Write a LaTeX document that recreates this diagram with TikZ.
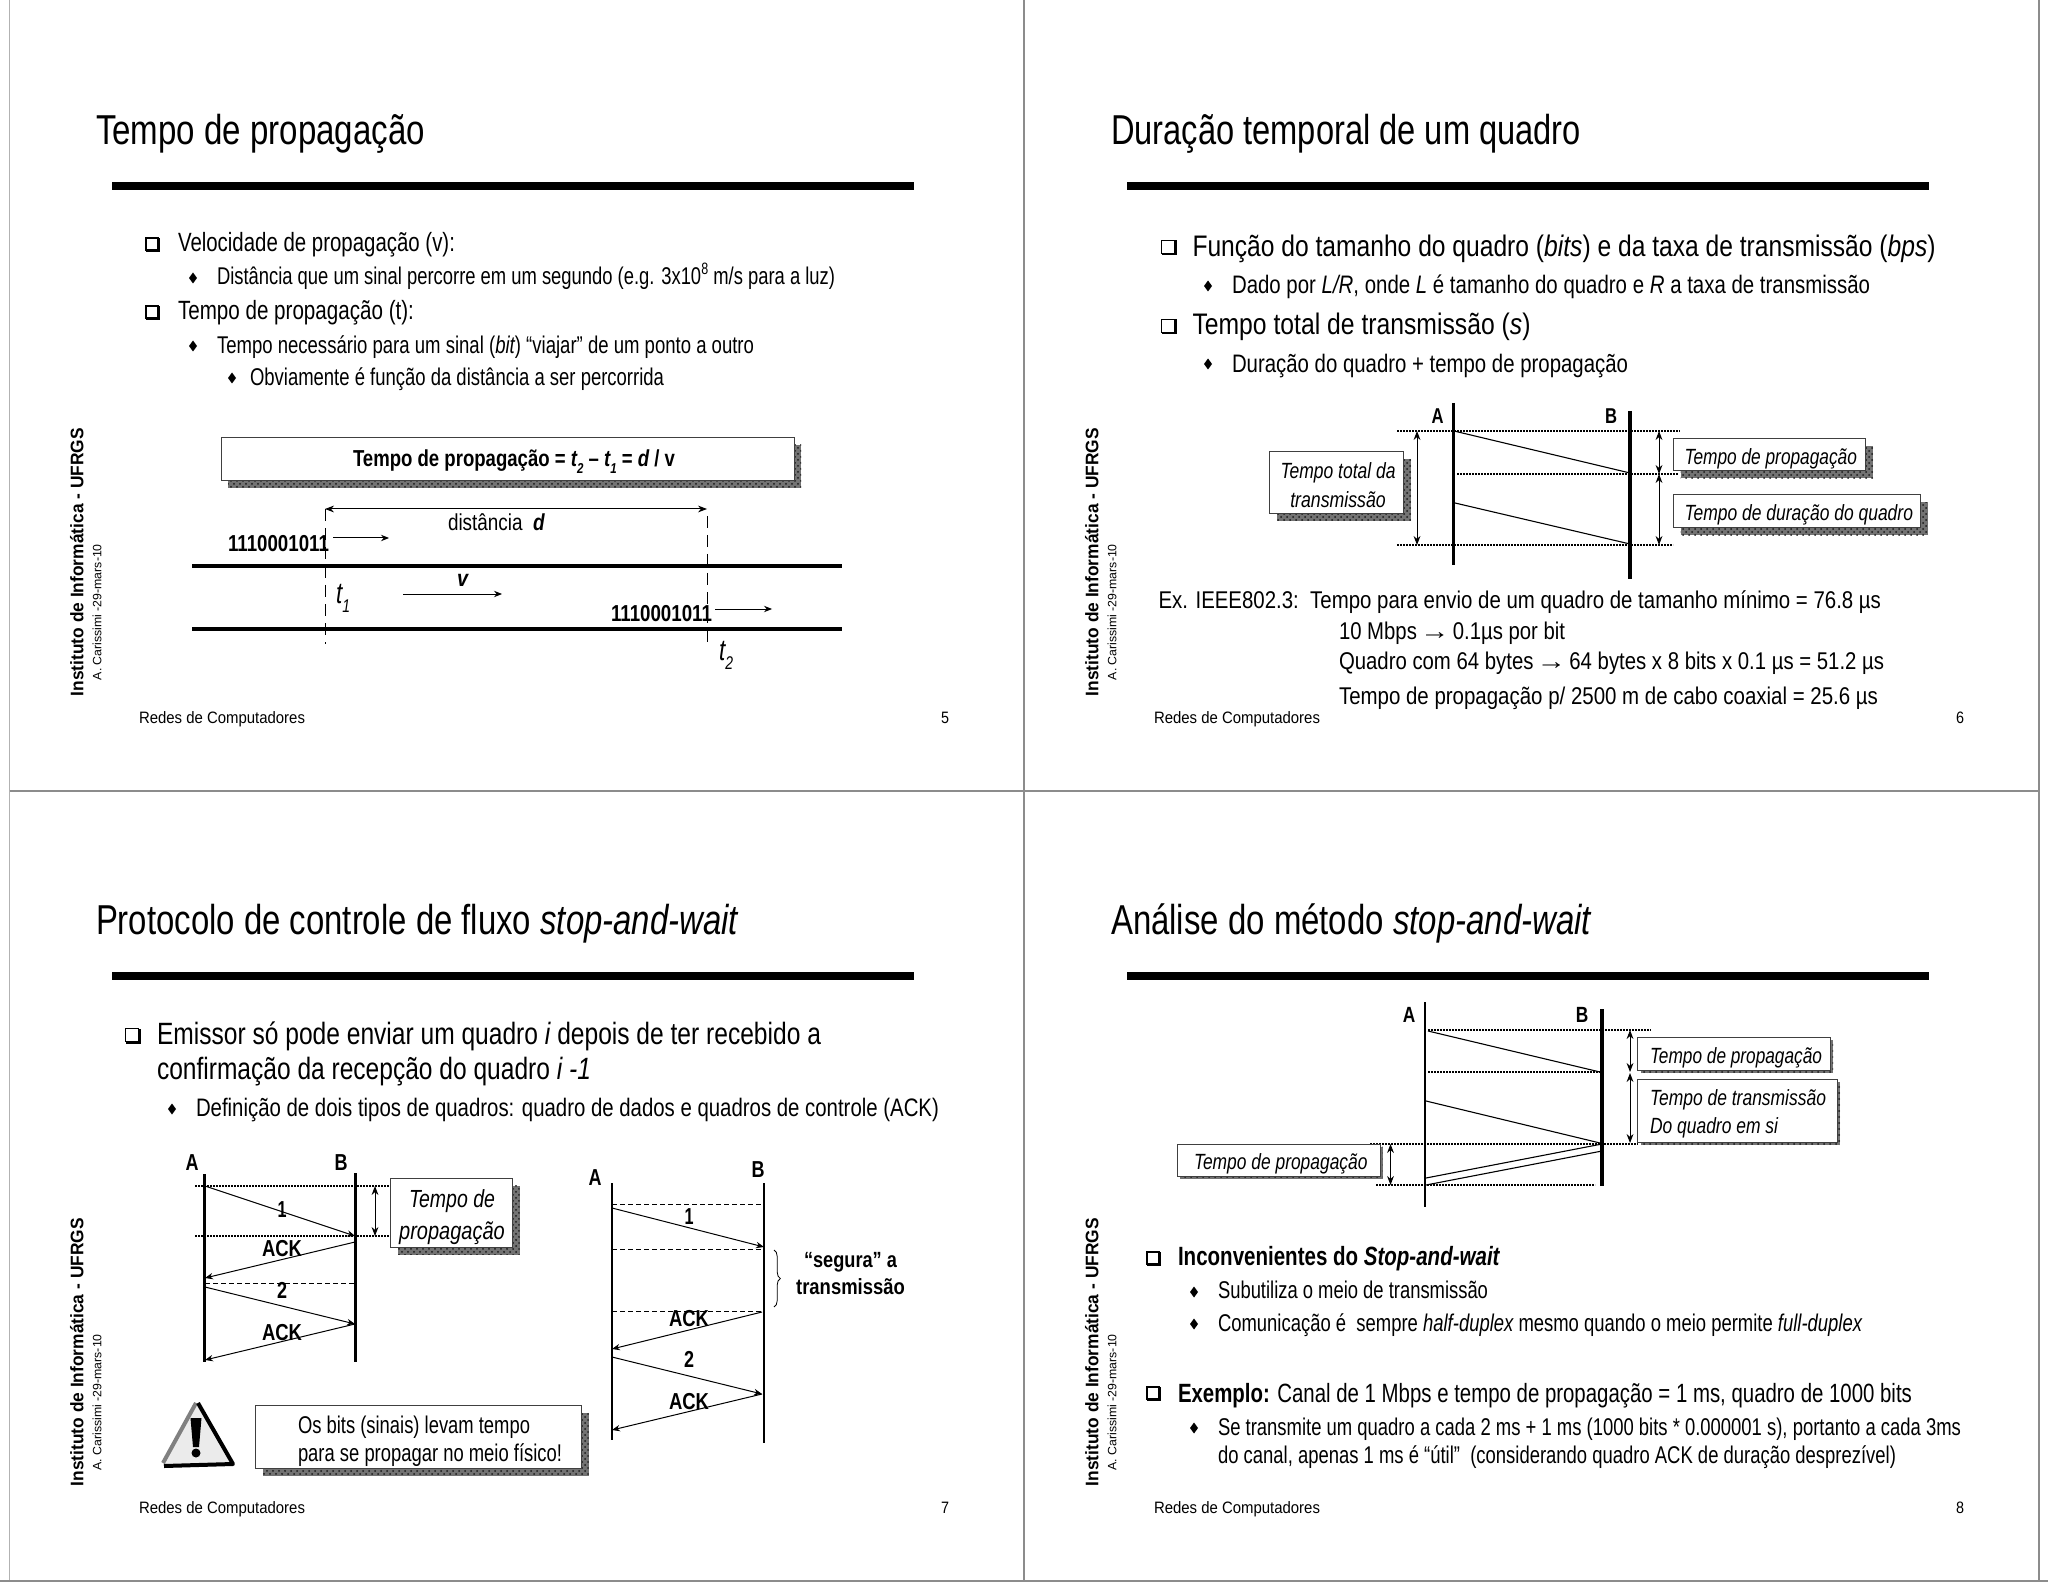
\documentclass[tikz,border=0pt]{standalone}
\usepackage{fontspec}
\usepackage{graphicx}
\setmainfont{Liberation Sans}
\usetikzlibrary{arrows.meta,patterns,decorations.pathreplacing}
\newlength\fitlen
\newcommand\fitw[2]{\setlength\fitlen{\fpeval{#1*0.5}pt}\resizebox{\fitlen}{\height}{#2}}
\newcommand\pxf[1]{\fontsize{\fpeval{#1*0.55}pt}{\fpeval{#1*0.66}pt}\selectfont}
% \tx[options]{name}{x}{y}{width px}{font px}{text}
\newcommand\tx[7][]{\node[txt,#1] (#2) at (#3,#4) {\fitw{#5}{\pxf{#6}#7}};}
\newcommand\subt[1]{\raisebox{-.3em}{\scalebox{.62}{#1}}}
\newcommand\supt[1]{\raisebox{.42em}{\scalebox{.68}{#1}}}
\newcommand\rarr{\hspace{-.12em}\scalebox{1.45}[1]{→}\hspace{-.12em}}
% \conn[style]{name}{x1}{y1}{x2}{y2}
\newcommand\conn[6][]{\coordinate (#2-a) at (#3,#4); \coordinate (#2-b) at (#5,#6); \draw[#1] (#2-a) -- (#2-b);}
\newcommand\qb[3]{\draw[line width=.7pt,fill=white] (#1-#3,#2-#3) rectangle (#1+#3,#2+#3);
  \draw[line width=1.2pt,line cap=butt] (#1-#3,#2+#3+.8) -- (#1+#3+.8,#2+#3+.8) -- (#1+#3+.8,#2-#3);}
\newcommand\db[2]{\fill (#1-4,#2) -- (#1,#2-5.5) -- (#1+4,#2) -- (#1,#2+5.5) -- cycle;}
% \bx{name}{x1}{y1}{x2}{y2}{dx}
\newcommand\bx[6]{\fill[shadowbg] (#2+#6,#3+#6) rectangle (#4+#6,#5+#6);
  \fill[shadowpat] (#2+#6,#3+#6) rectangle (#4+#6,#5+#6);
  \node[boxn,minimum width=\fpeval{(#4-#2)*0.5}pt,minimum height=\fpeval{(#5-#3)*0.5}pt] (#1) at (\fpeval{(#2+#4)/2},\fpeval{(#3+#5)/2}) {};}
\tikzset{
  txt/.style={anchor=base west,inner sep=0pt,outer sep=0pt,text=black,yshift=-.6pt},
  ctr/.style={anchor=base},
  vert/.style={rotate=90,yshift=.6pt},
  boxn/.style={draw=black!75,line width=.5pt,fill=white,inner sep=0pt,outer sep=0pt},
  shadowbg/.style={black!55},
  shadowpat/.style={pattern=crosshatch dots,pattern color=black!90},
  frameln/.style={draw=black!45,line width=1pt},
  rulebar/.style={line width=4pt,draw=black},
  life/.style={line width=1.7pt},
  dots/.style={line width=.9pt,dash pattern=on .9pt off .6pt},
  dsh/.style={line width=.5pt,dash pattern=on 2.5pt off 1.5pt},
  vdash/.style={line width=.4pt,dash pattern=on 6pt off 3.5pt},
  thin1/.style={line width=.55pt},
  arr/.style={line width=.5pt,-{Stealth[length=4pt,width=3.2pt]}},
  darr/.style={line width=.5pt,{Stealth[length=4.5pt,width=3.4pt]}-{Stealth[length=4.5pt,width=3.4pt]}},
}
\begin{document}
\begin{tikzpicture}[x=.5pt,y=-.5pt]
\useasboundingbox (0,0) rectangle (2048,1582);
\fill[white] (0,0) rectangle (2048,1582);
% frames
\conn[frameln,draw=black!30,line width=.7pt]{fl}{9.5}{0}{9.5}{1581}
\conn[frameln]{fm}{1024}{0}{1024}{1581}
\conn[frameln]{fr}{2039}{0}{2039}{1581}
\conn[frameln]{fh}{9.5}{791}{2039}{791}
\conn[frameln]{fb}{0}{1581}{2048}{1581}
% side texts + footers
\tx[vert]{iA}{84.5}{695}{268}{16.5}{\bfseries Instituto de Informática - UFRGS}
\tx[vert]{iB}{1099.5}{695}{268}{16.5}{\bfseries Instituto de Informática - UFRGS}
\tx[vert]{iC}{84.5}{1485}{268}{16.5}{\bfseries Instituto de Informática - UFRGS}
\tx[vert]{iD}{1099.5}{1485}{268}{16.5}{\bfseries Instituto de Informática - UFRGS}
\tx[vert]{cA}{102.5}{679}{136}{11}{A. Carissimi -29-mars-10}
\tx[vert]{cB}{1117.5}{679}{136}{11}{A. Carissimi -29-mars-10}
\tx[vert]{cC}{102.5}{1469}{136}{11}{A. Carissimi -29-mars-10}
\tx[vert]{cD}{1117.5}{1469}{136}{11}{A. Carissimi -29-mars-10}
\tx{fA}{139}{722}{166}{15}{Redes de Computadores}
\tx{fB}{1154}{722}{166}{15}{Redes de Computadores}
\tx{fC}{139}{1512}{166}{15}{Redes de Computadores}
\tx{fD}{1154}{1512}{166}{15}{Redes de Computadores}
\tx{nA}{941}{722}{8}{15}{5}
\tx{nB}{1956}{722}{8}{15}{6}
\tx{nC}{941}{1512}{8}{15}{7}
\tx{nD}{1956}{1512}{8}{15}{8}
% titles + rules
\tx{tA}{96}{143}{329}{38}{Tempo de propagação}
\tx{tB}{1111}{143}{470}{38}{Duração temporal de um quadro}
\tx{tC}{96}{933}{642}{38}{Protocolo de controle de fluxo \itshape stop-and-wait}
\tx{tD}{1111}{933}{480}{38}{Análise do método \itshape stop-and-wait}
\conn[rulebar]{rA}{112}{186}{914}{186}
\conn[rulebar]{rB}{1127}{186}{1929}{186}
\conn[rulebar]{rC}{112}{976}{914}{976}
\conn[rulebar]{rD}{1127}{976}{1929}{976}
%%%%% slide 1
\qb{152}{244}{6}
\tx{a1}{178}{250}{277}{24}{Velocidade de propagação (v):}
\db{193}{278}
\tx{a2}{217}{283}{618}{22}{Distância que um sinal percorre em um segundo (e.g. 3x10\supt{8} m/s para a luz)}
\qb{152}{312}{6}
\tx{a3}{178}{318}{236}{24}{Tempo de propagação (t):}
\db{193}{346}
\tx{a4}{217}{352}{537}{22}{Tempo necessário para um sinal ({\itshape bit}) “viajar” de um ponto a outro}
\db{232}{378}
\tx{a5}{250}{384}{414}{22}{Obviamente é função da distância a ser percorrida}
\bx{bA}{221}{438}{794}{481}{7}
\tx{eq}{353}{465}{322}{21}{\bfseries Tempo de propagação = {\itshape t\subt{2}} – {\itshape t\subt{1}} = {\itshape d} / v}
\conn[vdash]{dl1}{325}{509}{325}{644}
\conn[vdash]{dl2}{707}{516}{707}{644}
\conn[darr]{dd}{325}{509}{707}{509}
\tx{dist}{448}{529}{97}{21}{distância\ \ \textit{\bfseries d}}
\tx{bits1}{228}{550}{101}{21}{\bfseries 1110001011}
\conn[arr]{ab1}{333}{538}{389}{538}
\conn[line width=1.6pt]{w1}{192}{566}{842}{566}
\conn[line width=1.6pt]{w2}{192}{629}{842}{629}
\tx{t1}{336}{602}{14}{27}{\itshape t\subt{1}}
\tx{vv}{457}{585}{11}{21}{\bfseries\itshape v}
\conn[arr]{av}{403}{594}{502}{594}
\tx{bits2}{611}{620}{101}{21}{\bfseries 1110001011}
\conn[arr]{ab2}{715}{609}{772}{609}
\tx{t2}{719}{659}{14}{27}{\itshape t\subt{2}}
%%%%% slide 2
\qb{1168}{247}{6.5}
\tx{b1}{1192.5}{255}{743}{27}{Função do tamanho do quadro ({\itshape bits}) e da taxa de transmissão ({\itshape bps})}
\db{1208}{286}
\tx{b2}{1232}{292}{638}{23}{Dado por {\itshape L/R}, onde {\itshape L} é tamanho do quadro e {\itshape R} a taxa de transmissão}
\qb{1168}{326}{6.5}
\tx{b3}{1192.5}{333}{338}{27}{Tempo total de transmissão ({\itshape s})}
\db{1208}{364}
\tx{b4}{1232}{371}{396}{23}{Duração do quadro + tempo de propagação}
\conn[life]{lA2}{1453.5}{403}{1453.5}{565}
\conn[life]{lB2}{1630}{411}{1630}{579}
\tx[ctr]{A2}{1437.5}{422}{12}{19.5}{\bfseries A}
\tx[ctr]{B2}{1611}{422}{12}{19.5}{\bfseries B}
\conn[dots]{d21}{1397}{431}{1680}{431}
\conn[dots]{d22}{1457}{474}{1678}{474}
\conn[dots]{d23}{1397}{545}{1673}{545}
\conn[thin1]{s21}{1454}{431}{1630}{473}
\conn[thin1]{s22}{1455}{503}{1630}{544}
\conn[darr]{a21}{1417}{431}{1417}{545}
\conn[darr]{a22}{1659}{431}{1659}{474}
\conn[darr]{a23}{1659}{474}{1659}{545}
\bx{bB1}{1269.5}{452}{1403.5}{514}{7.5}
\tx[ctr]{b5}{1338}{477}{115}{20}{\itshape Tempo total da}
\tx[ctr]{b6}{1338}{506}{95.5}{20}{\itshape transmissão}
\bx{bB2}{1673}{439}{1865.5}{471}{7.5}
\tx{b7}{1684.5}{463}{172.5}{20}{\itshape Tempo de propagação}
\bx{bB3}{1673}{495}{1920.5}{528}{7.5}
\tx{b8}{1684.5}{519}{228.5}{20}{\itshape Tempo de duração do quadro}
\tx{b9}{1158.5}{607}{722.5}{22}{Ex. IEEE802.3:\ \ Tempo para envio de um quadro de tamanho mínimo = 76.8 µs}
\tx{b10}{1339}{638}{226}{22}{10 Mbps \rarr{} 0.1µs por bit}
\tx{b11}{1339}{668}{545}{22}{Quadro com 64 bytes \rarr{} 64 bytes x 8 bits x 0.1 µs = 51.2 µs}
\tx{b12}{1339}{703}{539}{22}{Tempo de propagação p/ 2500 m de cabo coaxial = 25.6 µs}
%%%%% slide 3
\qb{132}{1035}{6.5}
\tx{c1}{157}{1043}{664}{28}{Emissor só pode enviar um quadro {\itshape i} depois de ter recebido a}
\tx{c2}{157}{1078}{434}{28}{confirmação da recepção do quadro {\itshape i -1}}
\db{172}{1109}
\tx{c3}{196}{1115}{743}{23}{Definição de dois tipos de quadros: quadro de dados e quadros de controle (ACK)}
\tx[ctr]{A3}{192}{1169}{13}{21}{\bfseries A}
\tx[ctr]{B3}{341}{1169}{13}{21}{\bfseries B}
\conn[line width=1.3pt]{lA3}{204.6}{1174}{204.6}{1362}
\conn[line width=1.3pt]{lB3}{355.6}{1173}{355.6}{1362}
\conn[dots]{d31}{195}{1186}{390}{1186}
\conn[dots]{d32}{195}{1236}{390}{1236}
\conn[dsh]{d33}{205}{1283}{354}{1283}
\conn[arr]{m31}{205}{1186}{355}{1236}
\conn[arr]{m32}{355}{1242}{205}{1278}
\conn[arr]{m33}{205}{1287}{355}{1324}
\conn[arr]{m34}{355}{1324}{205}{1360}
\tx[ctr]{l31}{282}{1216}{9}{21}{\bfseries 1}
\tx[ctr]{l32}{282}{1255}{40}{21}{\bfseries ACK}
\tx[ctr]{l33}{282}{1297}{10}{21}{\bfseries 2}
\tx[ctr]{l34}{282}{1339}{40}{21}{\bfseries ACK}
\conn[darr]{a31}{375}{1186}{375}{1236}
\bx{bC1}{390}{1178}{512}{1247}{7.5}
\tx[ctr]{c4}{452}{1206}{86}{22.5}{\itshape Tempo de}
\tx[ctr]{c5}{452}{1238}{105.6}{22.5}{\itshape propagação}
% warning icon
\fill[black!8] (197,1403) -- (232,1464) -- (163,1464) -- cycle;
\draw[black!50,line width=2pt,line join=round] (163,1463) -- (196,1403);
\draw[line width=2pt,line join=round] (198,1403) -- (233,1464) -- (164,1466);
\fill (190.5,1418) -- (201.5,1418) -- (199,1447) -- (193,1447) -- cycle;
\fill (196,1453) circle (4.5);
\bx{bC2}{255}{1405}{581}{1468}{7.5}
\tx{c6}{298}{1432}{232}{22}{Os bits (sinais) levam tempo}
\tx{c7}{298}{1460}{264}{22}{para se propagar no meio físico!}
% right seq
\tx[ctr]{A3b}{595}{1184}{13}{21}{\bfseries A}
\tx[ctr]{B3b}{758}{1176}{13}{21}{\bfseries B}
\conn[line width=1.3pt]{lA3b}{612}{1183}{612}{1440}
\conn[line width=1.3pt]{lB3b}{764}{1183}{764}{1443}
\conn[dsh]{d34}{612}{1204}{764}{1204}
\conn[dsh]{d35}{612}{1249}{764}{1249}
\conn[dsh]{d36}{612}{1311}{764}{1311}
\conn[arr]{m35}{612}{1208}{764}{1247}
\conn[arr]{m36}{762}{1312}{612}{1349}
\conn[arr]{m37}{612}{1357}{762}{1394}
\conn[arr]{m38}{762}{1394}{612}{1430}
\tx[ctr]{l35}{689}{1223}{9}{21}{\bfseries 1}
\tx[ctr]{l36}{689}{1325}{40}{21}{\bfseries ACK}
\tx[ctr]{l37}{689}{1366}{10}{21}{\bfseries 2}
\tx[ctr]{l38}{689}{1408}{40}{21}{\bfseries ACK}
\coordinate (br1) at (774,1250); \coordinate (br2) at (774,1307);
\draw[line width=.4pt,decorate,decoration={brace,amplitude=3.2pt,aspect=.5}] (br1) -- (br2);
\tx[ctr]{c8}{850.5}{1266}{93}{20}{\bfseries “segura” a}
\tx[ctr]{c9}{850.5}{1293}{108.7}{20}{\bfseries transmissão}
%%%%% slide 4
\tx[ctr]{A4}{1409}{1021}{12.5}{20}{\bfseries A}
\tx[ctr]{B4}{1582}{1021}{12.5}{20}{\bfseries B}
\conn[line width=1.3pt]{lA4}{1425}{1002}{1425}{1207}
\conn[life]{lB4}{1602}{1009}{1602}{1186}
\conn[dots]{d41}{1428}{1030}{1651}{1030}
\conn[dots]{d42}{1428}{1072}{1601}{1072}
\conn[dots]{d43}{1370}{1144}{1638}{1144}
\conn[dots]{d44}{1376}{1185}{1595}{1185}
\conn[thin1]{s41}{1428}{1031}{1600}{1072}
\conn[thin1]{s42}{1426}{1101}{1600}{1143}
\conn[thin1]{s43}{1426}{1178}{1602}{1144}
\conn[thin1]{s44}{1426}{1185}{1602}{1151}
\conn[darr]{a41}{1630}{1030}{1630}{1072}
\conn[darr]{a42}{1630}{1073}{1630}{1143}
\conn[darr]{a43}{1390.5}{1144}{1390.5}{1185}
\bx{bD1}{1637.5}{1037}{1830}{1070}{3}
\tx{d1}{1650}{1062}{172}{20}{\itshape Tempo de propagação}
\bx{bD2}{1637.5}{1079}{1837}{1142}{3}
\tx{d2}{1650}{1104}{176}{20}{\itshape Tempo de transmissão}
\tx{d3}{1650}{1132}{128}{20}{\itshape Do quadro em si}
\bx{bD3}{1177.5}{1144}{1380}{1176}{2.5}
\tx{d4}{1194}{1168}{173.5}{20}{\itshape Tempo de propagação}
\qb{1153}{1258}{6}
\tx{d5}{1178}{1264}{321.5}{24}{\bfseries Inconvenientes do {\itshape Stop-and-wait}}
\db{1194}{1292}
\tx{d6}{1218}{1297}{270}{22}{Subutiliza o meio de transmissão}
\db{1194}{1324}
\tx{d7}{1218}{1330}{644}{22}{Comunicação é\ \ sempre {\itshape half-duplex} mesmo quando o meio permite {\itshape full-duplex}}
\qb{1153}{1393}{6}
\tx{d8}{1178}{1401}{734}{24}{{\bfseries Exemplo:} Canal de 1 Mbps e tempo de propagação = 1 ms, quadro de 1000 bits}
\db{1194}{1428}
\tx{d9}{1218}{1434}{743}{22}{Se transmite um quadro a cada 2 ms + 1 ms (1000 bits * 0.000001 s), portanto a cada 3ms}
\tx{d10}{1218}{1462}{678}{22}{do canal, apenas 1 ms é “útil”\ \ (considerando quadro ACK de duração desprezível)}
\end{tikzpicture}
\end{document}
